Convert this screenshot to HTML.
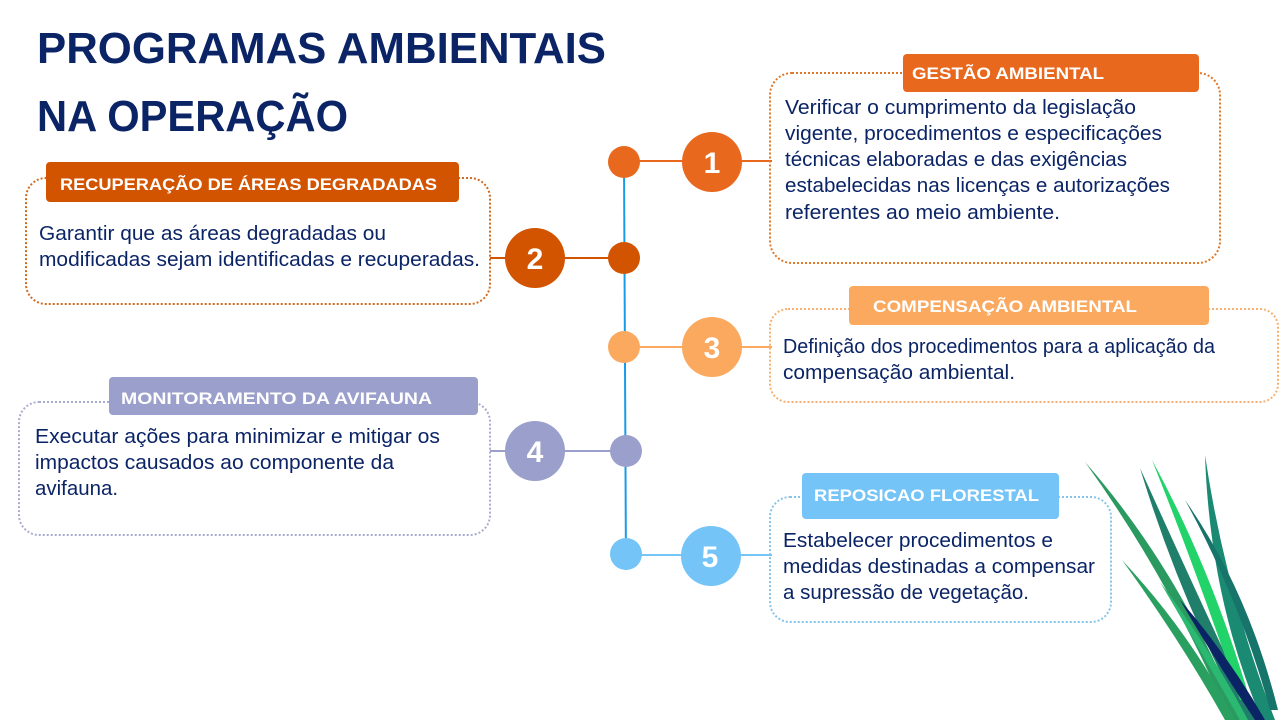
<!DOCTYPE html>
<html><head><meta charset="utf-8"><style>
html,body{margin:0;padding:0;background:#fff;width:1280px;height:720px;overflow:hidden}
svg text{font-family:"Liberation Sans",sans-serif}
</style></head><body>
<svg width="1280" height="720" viewBox="0 0 1280 720" xmlns="http://www.w3.org/2000/svg">
<g fill="#0b2466" font-weight="bold" font-size="44">
<text x="37" y="63" textLength="569" lengthAdjust="spacingAndGlyphs">PROGRAMAS AMBIENTAIS</text>
<text x="37" y="131" textLength="311" lengthAdjust="spacingAndGlyphs">NA OPERAÇÃO</text>
</g>
<!-- timeline -->
<line x1="624" y1="161" x2="626" y2="570" stroke="#1a9be8" stroke-width="2"/>
<g stroke-width="2">
<line x1="624" y1="161" x2="772" y2="161" stroke="#e8681e"/>
<line x1="490" y1="258" x2="624" y2="258" stroke="#d35400"/>
<line x1="624" y1="347" x2="772" y2="347" stroke="#fba95f"/>
<line x1="490" y1="451" x2="626" y2="451" stroke="#9a9fcb"/>
<line x1="626" y1="555" x2="772" y2="555" stroke="#74c4f7"/>
</g>
<circle cx="624" cy="162" r="16" fill="#e8681e"/>
<circle cx="624" cy="258" r="16" fill="#d35400"/>
<circle cx="624" cy="347" r="16" fill="#fba95f"/>
<circle cx="626" cy="451" r="16" fill="#9a9fcb"/>
<circle cx="626" cy="554" r="16" fill="#74c4f7"/>
<circle cx="712" cy="162" r="30" fill="#e8681e"/>
<circle cx="535" cy="258" r="30" fill="#d35400"/>
<circle cx="712" cy="347" r="30" fill="#fba95f"/>
<circle cx="535" cy="451" r="30" fill="#9a9fcb"/>
<circle cx="711" cy="556" r="30" fill="#74c4f7"/>
<g fill="#fff" font-weight="bold" font-size="30" text-anchor="middle">
<text x="712" y="173">1</text><text x="535" y="269">2</text><text x="712" y="358">3</text><text x="535" y="462">4</text><text x="710" y="567">5</text>
</g>
<!-- boxes -->
<g fill="none" stroke-width="2" stroke-dasharray="2 2">
<rect x="770" y="73" width="450" height="190" rx="22" stroke="#e07828"/>
<rect x="26" y="178" width="464" height="126" rx="20" stroke="#d06a20"/>
<rect x="770" y="309" width="508" height="93" rx="18" stroke="#f6b070"/>
<rect x="19" y="402" width="471" height="133" rx="20" stroke="#a9acd0"/>
<rect x="770" y="497" width="341" height="125" rx="20" stroke="#86c4ea"/>
</g>
<rect x="903" y="54" width="296" height="38" rx="4" fill="#e8681e"/>
<rect x="46" y="162" width="413" height="40" rx="4" fill="#d35400"/>
<rect x="849" y="286" width="360" height="39" rx="4" fill="#fba95f"/>
<rect x="109" y="377" width="369" height="38" rx="4" fill="#9a9fcb"/>
<rect x="802" y="473" width="257" height="46" rx="4" fill="#74c4f7"/>
<g fill="#fff" font-weight="bold" font-size="17" lengthAdjust="spacingAndGlyphs">
<text x="912" y="79" textLength="192" lengthAdjust="spacingAndGlyphs">GESTÃO AMBIENTAL</text>
<text x="60" y="190" textLength="377" lengthAdjust="spacingAndGlyphs">RECUPERAÇÃO DE ÁREAS DEGRADADAS</text>
<text x="873" y="312" textLength="264" lengthAdjust="spacingAndGlyphs">COMPENSAÇÃO AMBIENTAL</text>
<text x="121" y="404" textLength="311" lengthAdjust="spacingAndGlyphs">MONITORAMENTO DA AVIFAUNA</text>
<text x="814" y="501" textLength="225" lengthAdjust="spacingAndGlyphs">REPOSICAO FLORESTAL</text>
</g>
<g fill="#0b2466" font-size="20">
<text x="785" y="114" textLength="351" lengthAdjust="spacingAndGlyphs">Verificar o cumprimento da legislação</text>
<text x="785" y="140" textLength="377" lengthAdjust="spacingAndGlyphs">vigente, procedimentos e especificações</text>
<text x="785" y="166" textLength="342" lengthAdjust="spacingAndGlyphs">técnicas elaboradas e das exigências</text>
<text x="785" y="192" textLength="385" lengthAdjust="spacingAndGlyphs">estabelecidas nas licenças e autorizações</text>
<text x="785" y="219" textLength="275" lengthAdjust="spacingAndGlyphs">referentes ao meio ambiente.</text>
<text x="39" y="240" textLength="347" lengthAdjust="spacingAndGlyphs">Garantir que as áreas degradadas ou</text>
<text x="39" y="266" textLength="441" lengthAdjust="spacingAndGlyphs">modificadas sejam identificadas e recuperadas.</text>
<text x="783" y="353" textLength="432" lengthAdjust="spacingAndGlyphs">Definição dos procedimentos para a aplicação da</text>
<text x="783" y="379" textLength="232" lengthAdjust="spacingAndGlyphs">compensação ambiental.</text>
<text x="35" y="443" textLength="405" lengthAdjust="spacingAndGlyphs">Executar ações para minimizar e mitigar os</text>
<text x="35" y="469" textLength="359" lengthAdjust="spacingAndGlyphs">impactos causados ao componente da</text>
<text x="35" y="495" textLength="83" lengthAdjust="spacingAndGlyphs">avifauna.</text>
<text x="783" y="547" textLength="270" lengthAdjust="spacingAndGlyphs">Estabelecer procedimentos e</text>
<text x="783" y="573" textLength="312" lengthAdjust="spacingAndGlyphs">medidas destinadas a compensar</text>
<text x="783" y="599" textLength="246" lengthAdjust="spacingAndGlyphs">a supressão de vegetação.</text>
</g>
<!-- grass -->
<g>
<path d="M1085,462 Q1170,580 1230,720 L1240,720 Q1180,570 1085,462Z" fill="#2a9a60"/>
<path d="M1140,468 Q1180,600 1245,720 L1256,720 Q1195,590 1140,468Z" fill="#1f7f6a"/>
<path d="M1152,460 Q1200,580 1240,700 L1250,700 Q1212,570 1152,460Z" fill="#22d36a"/>
<path d="M1205,455 Q1210,600 1262,720 L1275,720 Q1225,590 1205,455Z" fill="#1a8a72"/>
<path d="M1185,500 Q1240,600 1270,710 L1278,710 Q1248,590 1185,500Z" fill="#17746a"/>
<path d="M1122,560 Q1180,640 1225,720 L1235,720 Q1192,635 1122,560Z" fill="#2aa060"/>
<path d="M1160,582 Q1200,650 1240,720 L1248,720 Q1210,648 1160,582Z" fill="#2bb870"/>
<path d="M1180,600 Q1215,660 1255,720 L1265,720 Q1228,655 1180,600Z" fill="#0b2466"/>
</g>
</svg>
</body></html>
